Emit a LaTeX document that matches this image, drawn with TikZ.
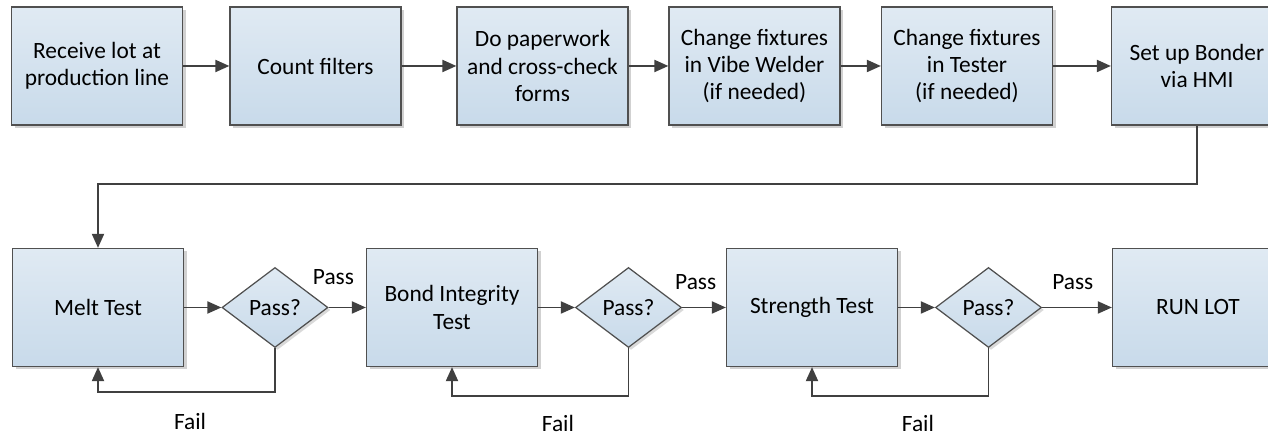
\documentclass[tikz,border=0pt]{standalone}
\usepackage{fontspec}
\setmainfont{Carlito}
\usepackage{tikz}
\usetikzlibrary{arrows.meta,positioning,shapes.geometric,shadows}
\definecolor{boxtop}{RGB}{224,234,243}
\definecolor{boxbot}{RGB}{200,218,234}
\definecolor{rimcolor}{RGB}{80,80,80}
\definecolor{linecolor}{RGB}{64,64,64}
\tikzset{
  stepbox/.style={draw=rimcolor, line width=0.7pt, top color=boxtop, bottom color=boxbot,
    minimum width=3.42cm, minimum height=2.36cm, align=center, inner sep=2pt,
    drop shadow={shadow xshift=0.06cm, shadow yshift=-0.06cm, fill=black!18, opacity=1}},
  checkbox/.style={diamond, draw=rimcolor, line width=0.7pt, top color=boxtop, bottom color=boxbot,
    minimum width=2.12cm, minimum height=1.6cm, inner sep=0pt, aspect=1.33,
    drop shadow={shadow xshift=0.05cm, shadow yshift=-0.05cm, fill=black!15, opacity=1}},
  flow/.style={->, draw=linecolor, line width=1.1pt},
  tag/.style={inner sep=0pt}
}

\begin{document}
\begin{tikzpicture}[>={Triangle[length=2.8mm,width=2.4mm]},
    every node/.style={font=\fontsize{13.3}{15.6}\selectfont}]
  \useasboundingbox (0,0) rectangle (25.36,8.76);
  % --- top row: preparation ---
  \node[stepbox] (recv)   at (1.94,7.44)  {Receive lot at\\production line};
  \node[stepbox] (count)  at (6.31,7.44)  {Count filters};
  \node[stepbox] (paper)  at (10.85,7.44) {Do paperwork\\and cross-check\\forms};
  \node[stepbox] (vibe)   at (15.09,7.44) {Change fixtures\\in Vibe Welder\\(if needed)};
  \node[stepbox] (tester) at (19.34,7.44) {Change fixtures\\in Tester\\(if needed)};
  \node[stepbox] (bonder) at (23.94,7.44) {Set up Bonder\\via HMI};
  % --- bottom row: tests ---
  \node[stepbox]  (melt)      at (1.96,2.61)  {Melt Test};
  \node[checkbox] (dmelt)     at (5.50,2.61)  {Pass?};
  \node[stepbox]  (bond)      at (9.04,2.61)  {Bond Integrity\\Test};
  \node[checkbox] (dbond)     at (12.57,2.61) {Pass?};
  \node[stepbox]  (strength)  at (16.24,2.61) {Strength Test};
  \node[checkbox] (dstrength) at (19.77,2.61) {Pass?};
  \node[stepbox]  (runlot)    at (23.96,2.61) {RUN LOT};
  % --- top row arrows ---
  \draw[flow] (recv) -- (count);
  \draw[flow] (count) -- (paper);
  \draw[flow] (paper) -- (vibe);
  \draw[flow] (vibe) -- (tester);
  \draw[flow] (tester) -- (bonder);
  % --- down to the tests ---
  \draw[flow] (bonder.south) -- ++(0,-1.16) -| (melt.north);
  % --- pass arrows ---
  \draw[flow] (melt) -- (dmelt);
  \draw[flow] (dmelt) -- node[tag, pos=0.13, yshift=0.6cm] {Pass} (bond);
  \draw[flow] (bond) -- (dbond);
  \draw[flow] (dbond) -- node[tag, pos=0.31, yshift=0.5cm] {Pass} (strength);
  \draw[flow] (strength) -- (dstrength);
  \draw[flow] (dstrength) -- node[tag, pos=0.44, yshift=0.5cm] {Pass} (runlot);
  % --- fail loops ---
  \draw[flow] (dmelt.south) -- ++(0,-0.88) -| node[tag, pos=0.24, yshift=-0.58cm] {Fail} (melt.south);
  \draw[flow] (dbond.south) -- ++(0,-0.96) -| node[tag, pos=0.2, yshift=-0.54cm] {Fail} (bond.south);
  \draw[flow] (dstrength.south) -- ++(0,-0.96) -| node[tag, pos=0.2, yshift=-0.54cm] {Fail} (strength.south);
\end{tikzpicture}
\end{document}
